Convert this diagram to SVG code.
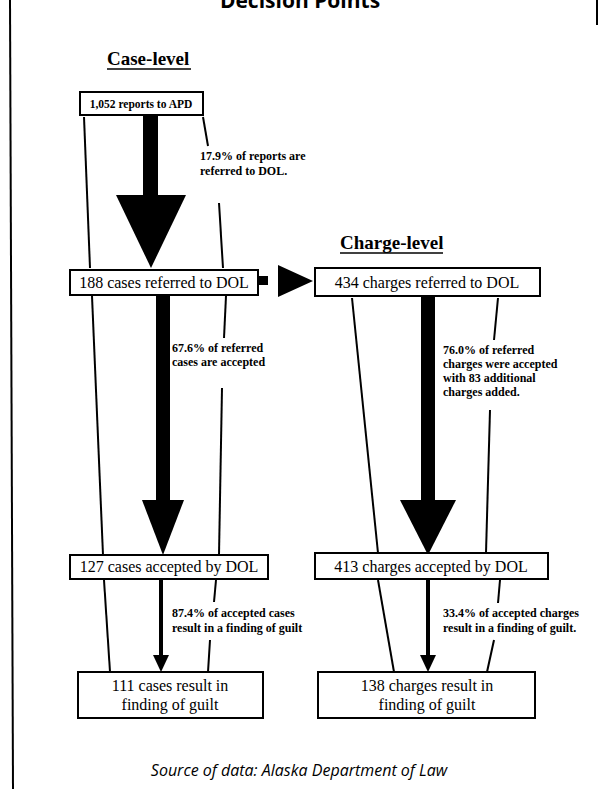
<svg xmlns="http://www.w3.org/2000/svg" width="599" height="789" viewBox="0 0 599 789">
<style>
.box{fill:#fff;stroke:#000;stroke-width:2}
.ln{stroke:#000;stroke-width:2;fill:none}
.bt{font-family:"Liberation Serif",serif;font-size:16px;fill:#000;text-anchor:middle}
.bts{font-family:"Liberation Serif",serif;font-size:11.5px;font-weight:bold;fill:#000;text-anchor:middle}
.sm{font-family:"Liberation Serif",serif;font-size:12px;font-weight:bold;fill:#000}
.hd{font-family:"Liberation Serif",serif;font-size:19px;font-weight:bold;fill:#000}
.fill{fill:#000}
</style>
<rect width="599" height="789" fill="#fff"/>
<line x1="10" y1="0" x2="13" y2="789" class="ln"/>
<line x1="597" y1="0" x2="597" y2="25" class="ln"/>
<text x="300" y="8" font-family="Open Sans, sans-serif" font-weight="bold" font-size="21" text-anchor="middle">Decision Points</text>

<g id="heading-case">
<text x="107" y="65" class="hd">Case-level</text>
<line x1="107" y1="69" x2="191" y2="69" stroke="#000" stroke-width="1.5"/>
</g>
<g id="heading-charge">
<text x="340" y="249" class="hd">Charge-level</text>
<line x1="340" y1="253" x2="443" y2="253" stroke="#000" stroke-width="1.5"/>
</g>

<g id="connectors">
<line x1="84" y1="117" x2="90" y2="268" class="ln"/>
<line x1="203" y1="117" x2="208" y2="146" class="ln"/>
<line x1="219" y1="203" x2="223" y2="268" class="ln"/>
<rect x="143" y="116" width="15" height="80" class="fill"/>
<polygon points="116,195 186,195 151,268" class="fill"/>
<text class="sm"><tspan x="200" y="160">17.9% of reports are</tspan><tspan x="200" y="175">referred to DOL.</tspan></text>
<rect x="259" y="276" width="9" height="9" class="fill"/>
<polygon points="278,265 278,297 313,281" class="fill"/>
<line x1="92" y1="296" x2="103" y2="555" class="ln"/>
<line x1="226" y1="296" x2="224" y2="338" class="ln"/>
<line x1="222" y1="388" x2="219" y2="555" class="ln"/>
<rect x="156" y="295" width="14" height="206" class="fill"/>
<polygon points="142,500 184,500 163,555" class="fill"/>
<text class="sm"><tspan x="172" y="352">67.6% of referred</tspan><tspan x="172" y="366">cases are accepted</tspan></text>
<line x1="104" y1="580" x2="110" y2="672" class="ln"/>
<line x1="216" y1="580" x2="214" y2="602" class="ln"/>
<line x1="210" y1="640" x2="208" y2="672" class="ln"/>
<rect x="159" y="579" width="4" height="80" class="fill"/>
<polygon points="153,655 169,655 161,672" class="fill"/>
<text class="sm"><tspan x="172" y="617">87.4% of accepted cases</tspan><tspan x="172" y="632">result in a finding of guilt</tspan></text>
<line x1="352" y1="298" x2="378" y2="553" class="ln"/>
<line x1="498" y1="298" x2="494" y2="340" class="ln"/>
<line x1="490" y1="410" x2="486" y2="553" class="ln"/>
<rect x="421" y="297" width="14" height="204" class="fill"/>
<polygon points="400,500 456,500 428,555" class="fill"/>
<text class="sm"><tspan x="443" y="354">76.0% of referred</tspan><tspan x="443" y="368">charges were accepted</tspan><tspan x="443" y="382">with 83 additional</tspan><tspan x="443" y="396">charges added.</tspan></text>
<line x1="378" y1="580" x2="394" y2="672" class="ln"/>
<line x1="500" y1="580" x2="498" y2="603" class="ln"/>
<line x1="494" y1="640" x2="487" y2="672" class="ln"/>
<rect x="426" y="579" width="4" height="78" class="fill"/>
<polygon points="420,655 436,655 428,672" class="fill"/>
<text class="sm"><tspan x="443" y="617">33.4% of accepted charges</tspan><tspan x="443" y="632">result in a finding of guilt.</tspan></text>
</g>

<g id="n-reports">
<rect x="80" y="92" width="123" height="23" class="box"/>
<text x="141" y="108" class="bts">1,052 reports to APD</text>
</g>
<g id="n-cases-referred">
<rect x="70" y="270" width="188" height="25" class="box"/>
<text x="164" y="288" class="bt">188 cases referred to DOL</text>
</g>
<g id="n-charges-referred">
<rect x="315" y="268" width="225" height="28" class="box"/>
<text x="427" y="288" class="bt">434 charges referred to DOL</text>
</g>
<g id="n-cases-accepted">
<rect x="70" y="555" width="198" height="24" class="box"/>
<text x="169" y="572" class="bt">127 cases accepted by DOL</text>
</g>
<g id="n-charges-accepted">
<rect x="315" y="553" width="233" height="26" class="box"/>
<text x="431" y="572" class="bt">413 charges accepted by DOL</text>
</g>
<g id="n-cases-guilt">
<rect x="78" y="672" width="185" height="46" class="box"/>
<text class="bt"><tspan x="170" y="691">111 cases result in</tspan><tspan x="170" y="710">finding of guilt</tspan></text>
</g>
<g id="n-charges-guilt">
<rect x="318" y="672" width="217" height="46" class="box"/>
<text class="bt"><tspan x="427" y="691">138 charges result in</tspan><tspan x="427" y="710">finding of guilt</tspan></text>
</g>

<text x="299" y="776" font-family="Open Sans, sans-serif" font-style="italic" font-size="16" text-anchor="middle">Source of data: Alaska Department of Law</text>
</svg>
